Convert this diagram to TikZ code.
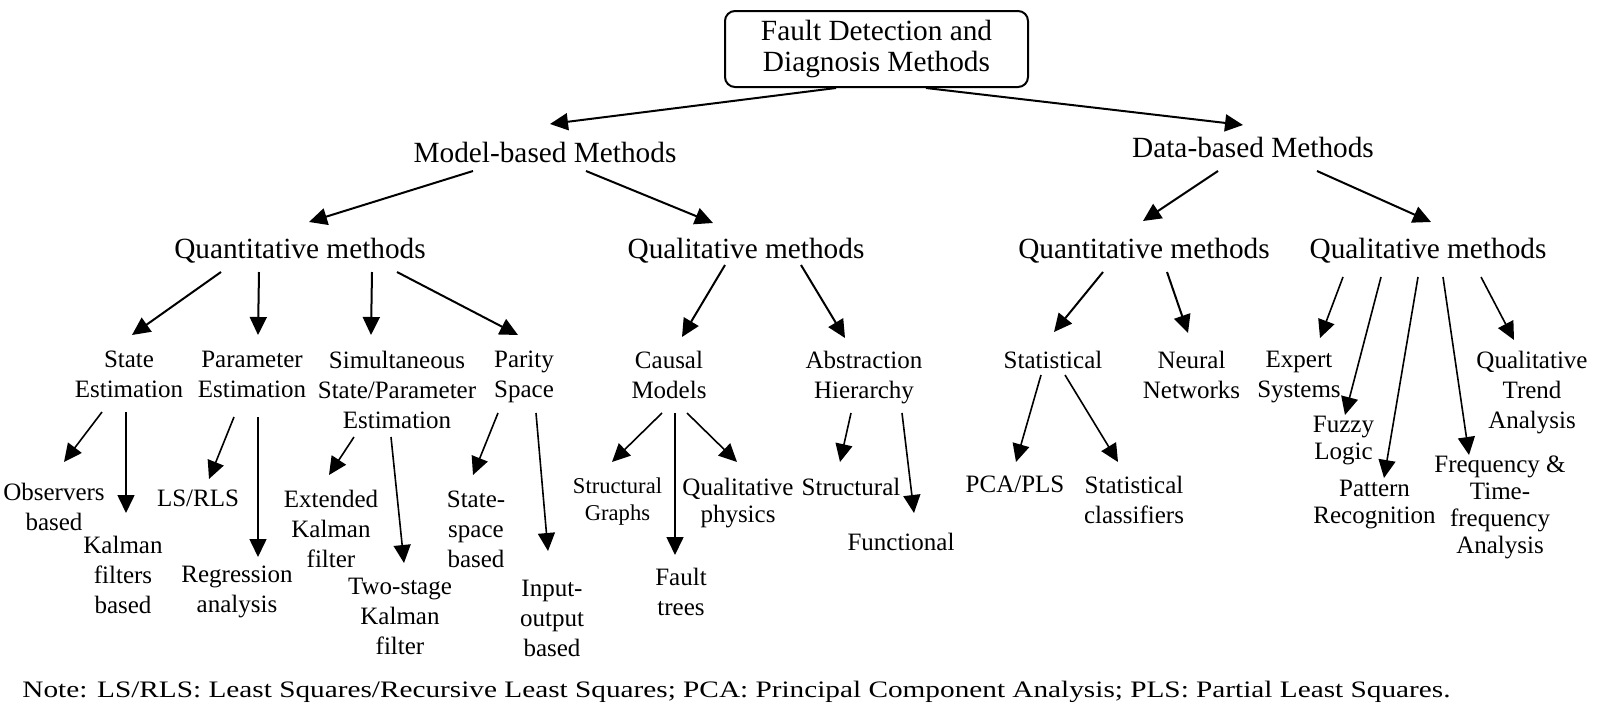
\documentclass[tikz,border=0pt]{standalone}
\usepackage{graphicx}
\usepackage{fontspec}
\setmainfont{Liberation Serif}
\usetikzlibrary{arrows.meta}
\tikzset{
  rootnode/.style={draw, line width=1pt, rounded corners=5pt, minimum width=151.5pt, minimum height=38pt, inner sep=0pt, align=center, font=\fontsize{14.65}{15.5}\selectfont},
  headnode/.style={inner sep=0pt, anchor=base, font=\fontsize{14.65}{15.5}\selectfont},
  leafnode/.style={inner sep=0pt, anchor=north, align=center, font=\fontsize{12.5}{15}\selectfont},
  tightnode/.style={font=\fontsize{12.5}{13.5}\selectfont},
  smallnode/.style={font=\fontsize{11.3}{13.5}\selectfont},
  notenode/.style={inner sep=0pt, anchor=base west, font=\fontsize{11.8}{14}\selectfont},
  arr/.style={-{Triangle[length=9pt,width=8.5pt]}, line width=1pt},
  lowarr/.style={line width=0.8pt}
}
\newcommand{\fdtitle}[3]{\node[headnode] at (#1) (#2) {#3};}
\newcommand{\fdleaf}[4][]{\node[leafnode,#1] at (#2) (#3) {#4};}
\newcommand{\fdarrow}[5][]{\draw[arr,#1] ([shift={(#3)}]#2) -- ([shift={(#5)}]#4);}

\begin{document}
\begin{tikzpicture}[x=0.5pt,y=-0.5pt]
\useasboundingbox (0,0) rectangle (1605,712);

% root
\node[rootnode] at (876.5,49) (fdd) {Fault Detection and\\Diagnosis Methods};

% methods
\fdtitle{545,162}{mbm}{Model-based Methods}
\fdtitle{1253,157}{dbm}{Data-based Methods}
\fdtitle{300,258}{mquan}{Quantitative methods}
\fdtitle{746,258}{mqual}{Qualitative methods}
\fdtitle{1144,258}{dquan}{Quantitative methods}
\fdtitle{1428,258}{dqual}{Qualitative methods}

% third level
\fdleaf{129,351}{se}{State\\Estimation}
\fdleaf{252,351}{pe}{Parameter\\Estimation}
\fdleaf{397,351}{sspe}{Simultaneous\\State/Parameter\\Estimation}
\fdleaf{524,351}{ps}{Parity\\Space}
\fdleaf{669,351}{cm}{Causal\\Models}
\fdleaf{864,351}{ah}{Abstraction\\Hierarchy}
\fdleaf{1053,351}{stat}{Statistical}
\fdleaf{1191.5,351}{nn}{Neural\\Networks}
\fdleaf{1299,351}{es}{Expert\\Systems}
\fdleaf{1532,351}{qta}{Qualitative\\Trend\\Analysis}

% fourth level
\fdleaf{54,483}{obs}{Observers\\based}
\fdleaf{123,536}{kf}{Kalman\\filters\\based}
\fdleaf{198,490}{ls}{LS/RLS}
\fdleaf{237,566}{ra}{Regression\\analysis}
\fdleaf{331,490}{ekf}{Extended\\Kalman\\filter}
\fdleaf{400,578}{tkf}{Two-stage\\Kalman\\filter}
\fdleaf{476,491}{ssb}{State-\\space\\based}
\fdleaf{552,580}{iob}{Input-\\output\\based}
\fdleaf[smallnode]{617.5,477.5}{sg}{Structural\\Graphs}
\fdleaf{681,568}{ft}{Fault\\trees}
\fdleaf[tightnode]{738,478}{qp}{Qualitative\\physics}
\fdleaf{851,478}{str}{Structural}
\fdleaf{901,533}{fun}{Functional}
\fdleaf{1015,476}{pca}{PCA/PLS}
\fdleaf{1134,476}{sc}{Statistical\\classifiers}
\fdleaf[tightnode]{1343.5,416}{fl}{Fuzzy\\Logic}
\fdleaf[tightnode]{1374.5,480}{pr}{Pattern\\Recognition}
\fdleaf[tightnode]{1500,455}{ftf}{Frequency \&\\Time-\\frequency\\Analysis}

% note
\node[notenode] at (22,697) (note) {\scalebox{1.24}[1]{Note: LS/RLS: Least Squares/Recursive Least Squares; PCA: Principal Component Analysis; PLS: Partial Least Squares.}};

% arrows
\fdarrow{fdd.south}{-40.5,0}{mbm.base}{5,-38}
\fdarrow{fdd.south}{49.5,0}{dbm.base}{-10,-32}
\fdarrow{mbm.base}{-72,9}{mquan.base}{9,-36}
\fdarrow{mbm.base}{41,9}{mqual.base}{-33,-35}
\fdarrow{dbm.base}{-35,14}{dquan.base}{-1,-37}
\fdarrow{dbm.base}{64,14}{dqual.base}{3,-36}

\fdarrow{mquan.base}{-79,14}{se.north}{3,-16}
\fdarrow{mquan.base}{-41,14}{pe.north}{6,-16}
\fdarrow{mquan.base}{72,14}{sspe.north}{-26,-16}
\fdarrow{mquan.base}{97,14}{ps.north}{-6,-16}
\fdarrow{mqual.base}{-21,7}{cm.north}{13,-14}
\fdarrow{mqual.base}{55,7}{ah.north}{-19,-13}
\fdarrow{dquan.base}{-41,14}{stat.north}{1,-19}
\fdarrow{dquan.base}{23,14}{nn.north}{-3.5,-18}
\fdarrow[lowarr]{dqual.base}{-85,19}{es.north}{21,-13}
\fdarrow[lowarr]{dqual.base}{-47,19}{fl.north}{1.5,-1}
\fdarrow[lowarr]{dqual.base}{-10,19}{pr.north}{9.5,-2}
\fdarrow[lowarr]{dqual.base}{15,19}{ftf.north}{-31,0}
\fdarrow[lowarr]{dqual.base}{53,19}{qta.north}{-18,-11}

\fdarrow[lowarr]{se.north}{-27,61}{obs.north}{10,-21}
\fdarrow[lowarr]{se.north}{-3,61}{kf.north}{3,-23}
\fdarrow[lowarr]{pe.north}{-18,66}{ls.north}{11,-11}
\fdarrow[lowarr]{pe.north}{6,66}{ra.north}{21,-9}
\fdarrow[lowarr]{sspe.north}{-43,86}{ekf.north}{-2,-15}
\fdarrow[lowarr]{sspe.north}{-6,86}{tkf.north}{4,-15}
\fdarrow[lowarr]{ps.north}{-26,62}{ssb.north}{-3,-16}
\fdarrow[lowarr]{ps.north}{12,62}{iob.north}{-4,-29}
\fdarrow[lowarr]{cm.north}{-7,62}{sg.north}{-5.5,-15.5}
\fdarrow[lowarr]{cm.north}{6,62}{ft.north}{-6,-13}
\fdarrow[lowarr]{cm.north}{18,62}{qp.north}{-1,-16}
\fdarrow[lowarr]{ah.north}{-13,62}{str.north}{-11,-16}
\fdarrow[lowarr]{ah.north}{38,62}{fun.north}{13,-20}
\fdarrow[lowarr]{stat.north}{-12,24}{pca.north}{1,-14}
\fdarrow[lowarr]{stat.north}{12,24}{sc.north}{-16,-14}
\end{tikzpicture}
\end{document}
